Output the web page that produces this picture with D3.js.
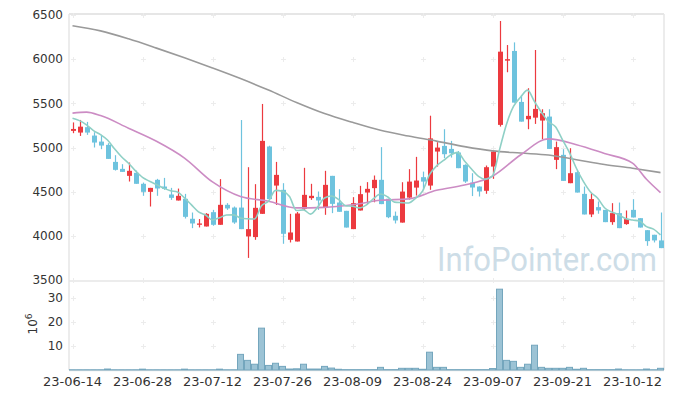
<!DOCTYPE html>
<html><head><meta charset="utf-8">
<script src="https://cdn.jsdelivr.net/npm/d3@7/dist/d3.min.js"></script>
<style>body{margin:0;background:#fff}svg{display:block}</style>
</head><body>
<svg id="c" width="673" height="399"></svg>
<script>
const dates = ["23-06-14","23-06-15","23-06-16","23-06-19","23-06-20","23-06-21","23-06-22","23-06-23","23-06-26","23-06-27","23-06-28","23-06-29","23-06-30",
"23-07-03","23-07-04","23-07-05","23-07-06","23-07-07","23-07-10","23-07-11","23-07-12","23-07-13","23-07-14","23-07-17","23-07-18","23-07-19","23-07-20","23-07-21","23-07-24","23-07-25","23-07-26","23-07-27","23-07-28","23-07-31",
"23-08-01","23-08-02","23-08-03","23-08-04","23-08-07","23-08-08","23-08-09","23-08-10","23-08-11","23-08-14","23-08-16","23-08-17","23-08-18","23-08-21","23-08-22","23-08-23","23-08-24","23-08-25","23-08-28","23-08-29","23-08-30","23-08-31",
"23-09-01","23-09-04","23-09-05","23-09-06","23-09-07","23-09-08","23-09-11","23-09-12","23-09-13","23-09-14","23-09-15","23-09-18","23-09-19","23-09-20","23-09-21","23-09-22","23-09-25","23-09-26","23-09-27",
"23-10-04","23-10-05","23-10-06","23-10-10","23-10-11","23-10-12","23-10-13","23-10-16","23-10-17","23-10-18"];
const open  = [5188,5169,5230,5135,5067,5030,4837,4758,4679,4713,4589,4498,4634,4558,4468,4400,4419,4193,4125,4106,4268,4125,4351,4320,4320,3993,3986,4249,5011,4569,4521,3955,3936,4306,4427,4441,4325,4679,4377,4283,4076,4287,4490,4540,4634,4420,4227,4150,4433,4546,4664,4569,4954,5018,4984,4943,4803,4603,4558,4510,4784,5256,5983,6093,5516,5320,5338,5305,5350,4860,4917,4596,4720,4475,4242,4325,4294,4155,4257,4133,4294,4200,4064,4012,3948];
const high  = [5284,5312,5290,5173,5143,5049,4913,4811,4830,4739,4603,4543,4645,4656,4543,4535,4475,4264,4190,4257,4294,4642,4370,4332,5311,4777,4585,5493,5020,4837,4596,4249,4270,4770,4589,4502,4736,4679,4528,4283,4438,4566,4608,4683,5004,4420,4275,4607,4755,4894,4727,5360,5060,5207,5075,4960,4810,4709,4560,4796,4960,6432,6160,6190,5595,5671,6104,5433,5433,5067,4981,4992,4743,4558,4483,4389,4294,4370,4377,4287,4415,4200,4064,4012,4264];
const low   = [5162,5131,5143,5000,4981,4871,4739,4724,4615,4589,4453,4332,4453,4521,4407,4400,4196,4087,4095,4106,4114,4125,4294,4136,4076,3750,3955,4249,4416,4350,3910,3925,3936,4287,4407,4294,4238,4257,4272,4094,4076,4287,4358,4380,4359,4200,4140,4150,4410,4456,4520,4521,4784,4879,4886,4766,4600,4450,4445,4476,4645,5237,5852,5508,5293,5207,5267,5094,4984,4755,4622,4596,4490,4242,4212,4250,4155,4125,4087,4125,4208,4094,3887,3925,3861];
const close = [5210,5236,5169,5056,5022,4871,4747,4724,4736,4589,4498,4543,4536,4532,4430,4453,4215,4140,4140,4249,4125,4351,4310,4151,4076,4076,4317,5075,4416,4690,4023,4038,4253,4464,4453,4400,4577,4362,4272,4094,4370,4472,4532,4634,4359,4211,4174,4501,4614,4626,4614,5103,4999,4924,4935,4766,4615,4547,4502,4777,4954,6085,6000,5508,5293,5358,5437,5388,4984,5004,4622,4709,4490,4242,4416,4287,4155,4257,4087,4189,4208,4094,3940,3948,3861];
const volume = [0.1,0.1,0.1,0.1,0.1,0.4,0.1,0.1,0.1,0.1,0.35,0.1,0.1,0.1,0.1,0.1,0.35,0.1,0.1,0.1,0.1,0.35,0.1,0.1,6.5,4.0,2.4,17.4,1.9,2.8,1.5,0.4,0.5,2.4,0.4,0.4,1.5,0.8,0.3,0.15,0.15,0.15,0.15,0.15,1.1,0.15,0.15,0.7,0.7,0.7,0.3,7.4,1.1,1.1,0.15,0.15,0.15,0.15,0.15,0.15,0.6,33.6,4.0,3.6,1.1,2.4,10.3,1.1,0.7,0.7,0.7,1.1,0.3,0.7,0.15,0.15,0.15,0.15,0.4,0.1,0.1,0.1,0.4,0.1,0.7];
const ma5 = [5331,5304,5256,5191,5145,5085,4985,4895,4822,4735,4662,4618,4580,4540,4510,4495,4430,4350,4272,4236,4180,4205,4235,4237,4203,4193,4190,4340,4392,4515,4504,4445,4286,4294,4246,4322,4429,4451,4413,4341,4335,4316,4350,4420,4473,4442,4382,4376,4372,4425,4506,4692,4791,4853,4915,4945,4848,4757,4673,4641,4679,4973,5264,5465,5568,5649,5519,5397,5292,5234,5087,4941,4762,4613,4496,4429,4318,4271,4240,4195,4179,4167,4104,4076,4010];
const ma20Index = [0,2,4,8,12,16,20,24,28,32,36,40,44,48,52,56,60,64,68,72,76,80,82,84];
const ma20 = [5389,5400,5362,5218,5070,4880,4610,4445,4392,4316,4322,4352,4402,4418,4515,4575,4675,4915,5098,5032,4932,4824,4640,4490];
const ma60Index = [0,4,8,12,16,20,24,28,32,36,40,44,48,52,56,60,64,68,72,76,80,84];
const ma60 = [6378,6320,6230,6125,6015,5900,5780,5650,5510,5385,5285,5195,5130,5072,5010,4962,4937,4915,4862,4808,4765,4716];
const priceTicks = [6500,6000,5500,5000,4500,4000,3500];
const volTicks = [10,20,30];
const xTickDates = ["23-06-14","23-06-28","23-07-12","23-07-26","23-08-09","23-08-24","23-09-07","23-09-21","23-10-12"];

const svg = d3.select("#c");
const L = 69, R = 664;
const x = d3.scaleBand().domain(dates).range([L, R]).padding(0);
const cx = d => x(d) + x.bandwidth() / 2;
const y = d3.scaleLinear().domain([3500, 6500]).range([280, 15]);
const yv = d3.scaleLinear().domain([0, 37]).range([370, 281]);

const UP = "#ec3a3f", DOWN = "#6ec3de";
const font = "DejaVu Sans, Arial, sans-serif";

// frame
const frame = svg.append("g").attr("stroke", "#e6e6e6").attr("fill", "none");
frame.append("line").attr("x1", L).attr("x2", R).attr("y1", 14).attr("y2", 14).attr("stroke-width", 2);
frame.append("line").attr("x1", R).attr("x2", R).attr("y1", 14).attr("y2", 370).attr("stroke-width", 1.5);
frame.append("line").attr("x1", L).attr("x2", L).attr("y1", 14).attr("y2", 370).attr("stroke-width", 1.5);
frame.append("line").attr("x1", L).attr("x2", R).attr("y1", 281).attr("y2", 281).attr("stroke-width", 1.5);
frame.append("line").attr("x1", L).attr("x2", R).attr("y1", 370.5).attr("y2", 370.5).attr("stroke-width", 1.5);

// grid pluses
const plus = svg.append("g").attr("stroke", "#ececec").attr("stroke-width", 1);
const gys = priceTicks.map(y).concat(volTicks.map(yv));
xTickDates.forEach(d => {
  const px = Math.round(cx(d)) + 0.5;
  gys.forEach(gy => {
    const py = Math.round(gy) + 0.5;
    plus.append("line").attr("x1", px - 2.5).attr("x2", px + 2.5).attr("y1", py).attr("y2", py);
    plus.append("line").attr("x1", px).attr("x2", px).attr("y1", py - 2.5).attr("y2", py + 2.5);
  });
});

// watermark
svg.append("text").attr("x", 437).attr("y", 271).text("InfoPointer.com")
  .attr("font-family", "Roboto, Arial, sans-serif").attr("font-size", 33)
  .attr("textLength", 220).attr("lengthAdjust", "spacingAndGlyphs")
  .attr("fill", "#cddde7");

// volume bars
svg.append("g").selectAll("rect").data(dates).join("rect")
  .attr("x", d => x(d) + 0.5).attr("width", x.bandwidth() - 1)
  .attr("y", (d, i) => yv(volume[i])).attr("height", (d, i) => yv(0) - yv(volume[i]))
  .attr("fill", "#9cc3d5").attr("stroke", "#74a6bd").attr("stroke-width", 1);

// candles
const cg = svg.append("g");
dates.forEach((d, i) => {
  const up = close[i] >= open[i];
  const col = up ? UP : DOWN;
  const px = Math.round(cx(d)) + 0.5;
  cg.append("line").attr("x1", px).attr("x2", px).attr("y1", y(high[i])).attr("y2", y(low[i]))
    .attr("stroke", col).attr("stroke-width", 1.2);
  const top = y(Math.max(open[i], close[i])), bot = y(Math.min(open[i], close[i]));
  cg.append("rect").attr("x", px - 2.5).attr("width", 5).attr("y", top)
    .attr("height", Math.max(1.2, bot - top)).attr("fill", col);
});

// moving averages
const line = d3.line().curve(d3.curveMonotoneX);
svg.append("path").attr("d", line(ma60Index.map((k, j) => [cx(dates[k]), y(ma60[j])])))
  .attr("fill", "none").attr("stroke", "#9a9a9a").attr("stroke-width", 1.6);
svg.append("path").attr("d", line(ma20Index.map((k, j) => [cx(dates[k]), y(ma20[j])])))
  .attr("fill", "none").attr("stroke", "#cc8cc4").attr("stroke-width", 1.6);
svg.append("path").attr("d", line(dates.map((d, i) => [cx(d), y(ma5[i])])))
  .attr("fill", "none").attr("stroke", "#8fd0c6").attr("stroke-width", 1.6);

// y labels
const lab = svg.append("g").attr("font-family", font).attr("fill", "#333").attr("text-anchor", "end");
priceTicks.forEach(t => lab.append("text").attr("x", 63).attr("y", y(t)).attr("dy", "0.36em")
  .attr("font-size", 12).text(t));
volTicks.forEach(t => lab.append("text").attr("x", 63).attr("y", yv(t)).attr("dy", "0.36em")
  .attr("font-size", 12).text(t));

// x labels
const xl = svg.append("g").attr("font-family", font).attr("fill", "#333").attr("text-anchor", "middle");
xTickDates.forEach(d => xl.append("text").attr("x", cx(d)).attr("y", 386).attr("font-size", 13).text(d));

// 10^6 unit label
const u = svg.append("text").attr("transform", "translate(37,324) rotate(-90)")
  .attr("font-family", font).attr("font-size", 12).attr("fill", "#333").attr("text-anchor", "middle");
u.append("tspan").text("10");
u.append("tspan").attr("dy", -5).attr("font-size", 9).text("6");
</script>
</body></html>
